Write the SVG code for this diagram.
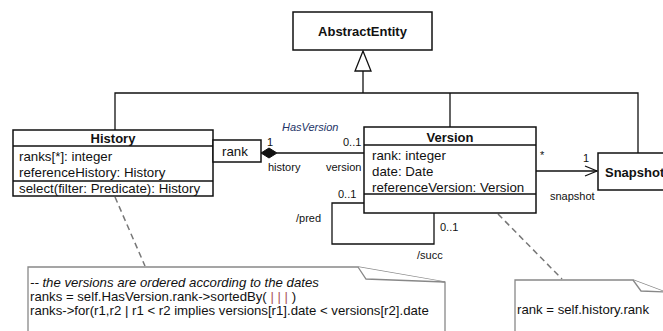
<svg xmlns="http://www.w3.org/2000/svg" width="663" height="331" viewBox="0 0 663 331">
<defs>
<style>
.box{fill:#fff;stroke:#111;stroke-width:1.5}
.ln{fill:none;stroke:#111;stroke-width:1.3}
.note{fill:#fff;stroke:#888;stroke-width:1.3}
.dash{fill:none;stroke:#777;stroke-width:1.5;stroke-dasharray:6,4}
text{font-family:"Liberation Sans",Arial,sans-serif;fill:#111}
.cls{font-weight:bold;font-size:13px}
.attr{font-size:13.3px}
.lbl{font-size:11px}
.nt{font-size:13.2px}
</style>
<marker id="open" markerWidth="14" markerHeight="12" refX="13" refY="6" orient="auto" markerUnits="userSpaceOnUse">
<path d="M1,1 L13,6 L1,11" fill="none" stroke="#111" stroke-width="1.3"/>
</marker>
</defs>
<rect width="663" height="331" fill="#fff"/>
<g id="connectors">
<path class="ln" d="M115,130 V93 H638 V153"/>
<path class="ln" d="M450,127 V93"/>
<path class="ln" d="M363,93 V71"/>
<path d="M363,51 L355,71 L371,71 Z" fill="#fff" stroke="#111" stroke-width="1.3"/>
<path class="ln" d="M277,153 H364"/>
<path d="M261,153 L269,148 L277,153 L269,158 Z" fill="#111" stroke="#111" stroke-width="1"/>
<path class="ln" d="M536,171 H597" marker-end="url(#open)"/>
<path class="ln" d="M364,203 H332 V244 H434 V213"/>
<path class="dash" d="M115,197 L145,266"/>
<path class="dash" d="M498,214 L562,279"/>
<text class="lbl" x="282" y="131" font-style="italic" style="fill:#223366">HasVersion</text>
<text class="lbl" x="267" y="146">1</text>
<text class="lbl" x="268" y="171">history</text>
<text class="lbl" x="343" y="146">0..1</text>
<text class="lbl" x="326" y="171">version</text>
<text class="lbl" x="540" y="159">*</text>
<text class="lbl" x="583" y="162">1</text>
<text class="lbl" x="550" y="200">snapshot</text>
<text class="lbl" x="338" y="198">0..1</text>
<text class="lbl" x="296" y="222">/pred</text>
<text class="lbl" x="440" y="231">0..1</text>
<text class="lbl" x="417" y="259">/succ</text>
</g>
<g id="AbstractEntity">
<rect class="box" x="293" y="12" width="139" height="38"/>
<text class="cls" x="362.5" y="36" text-anchor="middle">AbstractEntity</text>
</g>
<g id="History">
<rect class="box" x="13" y="130" width="200" height="66"/>
<line class="ln" x1="13" y1="146" x2="213" y2="146"/>
<line class="ln" x1="13" y1="181" x2="213" y2="181"/>
<text class="cls" x="113" y="143" text-anchor="middle">History</text>
<text class="attr" x="19" y="161">ranks[*]: integer</text>
<text class="attr" x="19" y="177">referenceHistory: History</text>
<text class="attr" x="19" y="193">select(filter: Predicate): History</text>
</g>
<g id="rank-qualifier">
<rect class="box" x="213" y="140" width="48" height="22"/>
<text class="attr" x="222" y="156">rank</text>
</g>
<g id="Version">
<rect class="box" x="364" y="127" width="172" height="86"/>
<line class="ln" x1="364" y1="145" x2="536" y2="145"/>
<line class="ln" x1="364" y1="194" x2="536" y2="194"/>
<text class="cls" x="450" y="142" text-anchor="middle">Version</text>
<text class="attr" x="372" y="160">rank: integer</text>
<text class="attr" x="372" y="176">date: Date</text>
<text class="attr" x="372" y="192">referenceVersion: Version</text>
</g>
<g id="Snapshot">
<rect class="box" x="598" y="153" width="70" height="37"/>
<text class="cls" x="605" y="177">Snapshot</text>
</g>
<g id="note-history">
<path class="note" d="M28,267 H358 L445,282 V335 H28 Z"/>
<path class="note" d="M358,267 L366,279 L445,282"/>
<text class="nt" x="30" y="287" font-style="italic">-- the versions are ordered according to the dates</text>
<text class="nt" x="30" y="301">ranks = self.HasVersion.rank-&gt;sortedBy( <tspan style="fill:#a55">| | |</tspan> )</text>
<text class="nt" x="30" y="315">ranks-&gt;for(r1,r2 | r1 &lt; r2 implies versions[r1].date &lt; versions[r2].date</text>
</g>
<g id="note-version">
<path class="note" d="M515,280 H633 L665,292 V335 H515 Z"/>
<path class="note" d="M633,280 L641,291 L665,292"/>
<text class="nt" x="517" y="314">rank = self.history.rank</text>
</g>
</svg>
